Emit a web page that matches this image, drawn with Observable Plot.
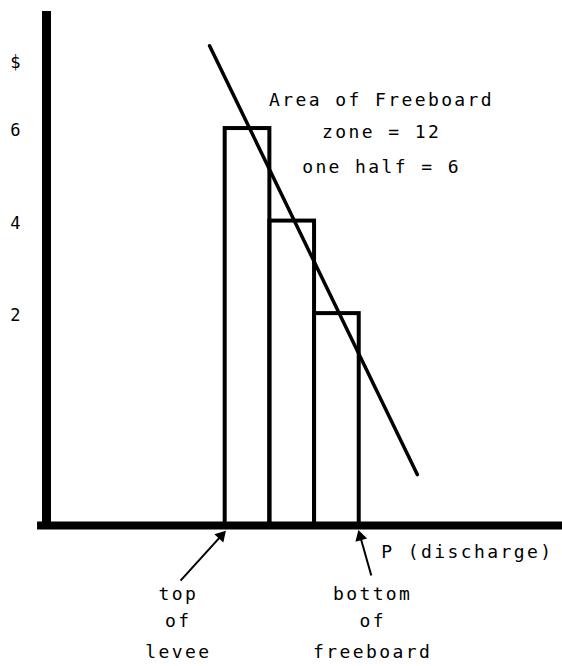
<!DOCTYPE html>
<html><head><meta charset="utf-8">
<script src="https://cdn.jsdelivr.net/npm/d3@7"></script>
<script src="https://cdn.jsdelivr.net/npm/@observablehq/plot@0.6"></script>
<style>body{margin:0;background:#fff} svg{display:block}</style>
</head><body><div id="chart"></div>
<script>
// ---- data ----
const barStart = [4, 5, 6];
const barEnd = [5, 6, 7];
const barValue = [6, 4, 2];
const yTicks = [2, 4, 6];
const yAxisLabel = "$";
const axisBase = -2.58;   // value at which the drawn P axis sits
const axisTop = 8.53;
const xMax = 11.55;
const trendX = [3.65, 8.30];
const trendY = [7.79, -1.48];
const noteLines = ["Area of Freeboard", "zone = 12", "one half = 6"];
const noteX = [7.5, 7.5, 7.5];
const noteY = [6.62, 5.91, 5.17];
const xAxisLabel = "P (discharge)";
const xLabelX = 9.42, xLabelY = -3.15;
const markerText = ["top", "of", "levee", "bottom", "of", "freeboard"];
const markerX = [2.95, 2.95, 2.95, 7.3, 7.3, 7.3];
const markerY = [-4.06, -4.66, -5.33, -4.06, -4.66, -5.33];
const arrowX1 = [3.0, 7.27], arrowY1 = [-3.77, -3.66];
const arrowX2 = [3.97, 7.0], arrowY2 = [-2.74, -2.74];

const FONT = "DejaVu Sans Mono";
const W = 562, H = 666, ML = 46, MR = 0, MT = 11, MB = 141;
const pxX = (W - ML - MR) / xMax;
const pxY = (H - MT - MB) / (axisTop - axisBase);

const bars = barValue.map((v, i) => ({x1: barStart[i], x2: barEnd[i], y: v}));
const trend = trendX.map((x, i) => ({x, y: trendY[i]}));
const notes = noteLines.map((t, i) => ({t, x: noteX[i], y: noteY[i]}));
const markers = markerText.map((t, i) => ({t, x: markerX[i], y: markerY[i]}));
const arrows = arrowX1.map((x, i) => {
  const dxp = (arrowX2[i] - x) * pxX, dyp = -(arrowY2[i] - arrowY1[i]) * pxY;
  const len = Math.hypot(dxp, dyp);
  const back = 4; // pull the head's centre back from the tip
  return {
    x1: x, y1: arrowY1[i], x2: arrowX2[i], y2: arrowY2[i],
    hx: arrowX2[i] - (dxp / len) * back / pxX,
    hy: arrowY2[i] + (dyp / len) * back / pxY,
    rot: Math.atan2(dxp, -dyp) * 180 / Math.PI
  };
});

const chart = Plot.plot({
  width: W,
  height: H,
  marginLeft: ML,
  marginRight: MR,
  marginTop: MT,
  marginBottom: MB,
  x: {domain: [0, xMax], axis: null},
  y: {domain: [axisBase, axisTop], axis: null},
  style: {fontFamily: FONT, background: "white", color: "black"},
  marks: [
    Plot.rect(bars, {x1: "x1", x2: "x2", y1: axisBase, y2: "y", fill: "none", stroke: "black", strokeWidth: 4}),
    Plot.line(trend, {x: "x", y: "y", stroke: "black", strokeWidth: 3.5}),
    Plot.ruleY([axisBase], {x1: -0.2, x2: xMax, stroke: "black", strokeWidth: 8}),
    Plot.ruleX([0], {y1: axisBase - 0.07, y2: axisTop, stroke: "black", strokeWidth: 9}),
    Plot.axisY(yTicks, {tickSize: 0, tickPadding: 26, fontSize: 17, fontFamily: FONT, dy: 2, tickFormat: d => String(d)}),
    Plot.text([yAxisLabel], {x: 0, y: [7.43], text: d => d, textAnchor: "end", dx: -26, fontSize: 17, fontFamily: FONT}),
    Plot.text(notes, {x: "x", y: "y", text: "t", fontSize: 18, fontFamily: FONT, className: "spaced"}),
    Plot.text([xAxisLabel], {x: [xLabelX], y: [xLabelY], text: d => d, fontSize: 18, fontFamily: FONT, className: "spaced"}),
    Plot.text(markers, {x: "x", y: "y", text: "t", fontSize: 18, fontFamily: FONT, className: "spaced"}),
    Plot.link(arrows, {x1: "x1", y1: "y1", x2: "hx", y2: "hy", stroke: "black", strokeWidth: 2}),
    Plot.dot(arrows, {x: "hx", y: "hy", symbol: "triangle", r: 4.5, rotate: "rot", fill: "black", stroke: "none"})
  ]
});
chart.querySelectorAll(".spaced text, text.spaced, g.spaced").forEach(el => el.style.letterSpacing = "2.4px");
document.getElementById("chart").append(chart);
</script>
</body></html>
